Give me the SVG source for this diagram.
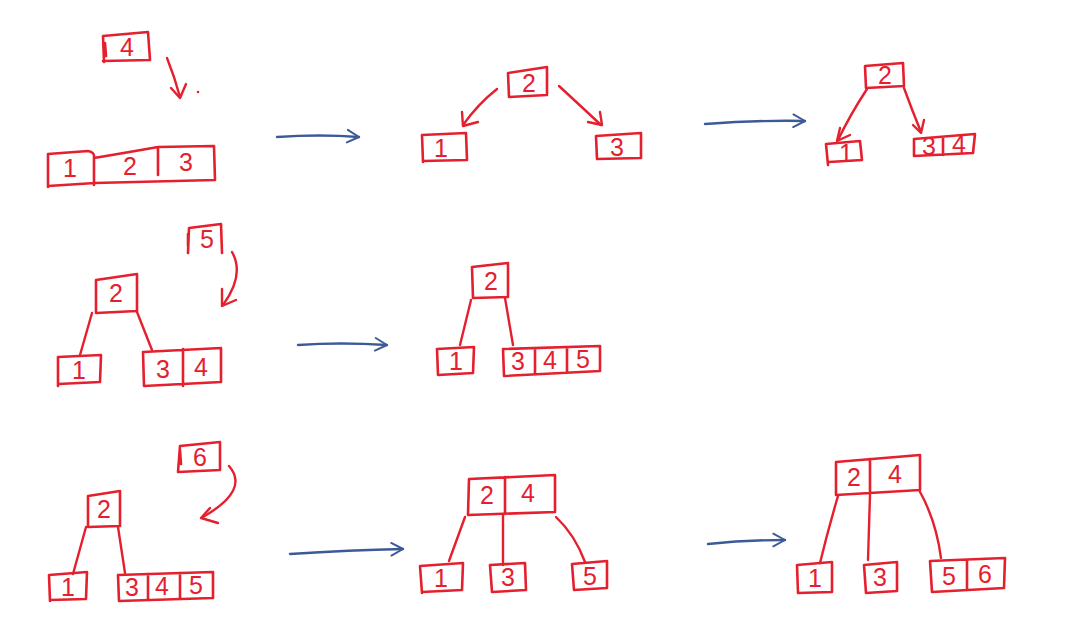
<svg xmlns="http://www.w3.org/2000/svg" width="1070" height="641" viewBox="0 0 1070 641">
<defs>
<style>
.b{fill:none;stroke:#e5202e;stroke-width:2.6;stroke-linejoin:round;stroke-linecap:round}
.t{font-family:"Liberation Sans",Arial,sans-serif;font-size:25px;fill:#e5202e;text-anchor:middle;dominant-baseline:central}
.c{fill:none;stroke:#e5202e;stroke-width:2.4;stroke-linecap:round;stroke-linejoin:round}
.s{fill:none;stroke:#3d5a98;stroke-width:2.4;stroke-linecap:round}
</style>
<marker id="ab" viewBox="0 0 20 20" refX="17" refY="10" markerWidth="18" markerHeight="18" orient="auto" markerUnits="userSpaceOnUse">
<path d="M4,3 L17,10 L4,17" fill="none" stroke="#3d5a98" stroke-width="2.2" stroke-linecap="round" stroke-linejoin="round"/>
</marker>
</defs>
<rect width="1070" height="641" fill="#ffffff"/>

<g id="connectors">
<!-- row 1 -->
<path class="c" d="M167,58 Q175,78 180,97"/>
<path class="c" d="M171,88 L180,98 L186,84"/>
<circle cx="198" cy="92" r="1.3" fill="#e5202e"/>
<path class="s" d="M277,137 Q320,134 359,137" marker-end="url(#ab)"/>
<path class="c" d="M497,89 Q478,104 463,125"/>
<path class="c" d="M462,112 L463,126 L478,122"/>
<path class="c" d="M559,86 Q585,110 601,125"/>
<path class="c" d="M588,122 L602,125 L600,112"/>
<path class="s" d="M705,124 Q760,120 805,121" marker-end="url(#ab)"/>
<path class="c" d="M867,89 Q850,115 838,140"/>
<path class="c" d="M840,128 L837,141 L850,135"/>
<path class="c" d="M904,88 Q912,110 921,132"/>
<path class="c" d="M913,125 L921,133 L924,120"/>
<!-- row 2 -->
<path class="c" d="M232,252 Q245,275 223,305"/>
<path class="c" d="M222,289 L222,306 L236,300"/>
<path class="c" d="M92,313 L80,355"/>
<path class="c" d="M137,312 L152,350"/>
<path class="s" d="M298,345 Q340,342 387,345" marker-end="url(#ab)"/>
<path class="c" d="M471,300 L460,345"/>
<path class="c" d="M505,298 L513,345"/>
<!-- row 3 -->
<path class="c" d="M229,466 Q250,490 203,517"/>
<path class="c" d="M210,508 L201,518 L218,523"/>
<path class="c" d="M86,527 L73,574"/>
<path class="c" d="M118,527 L125,573"/>
<path class="s" d="M290,554 Q350,550 403,549" marker-end="url(#ab)"/>
<path class="c" d="M465,517 L449,561"/>
<path class="c" d="M503,515 L503,565"/>
<path class="c" d="M556,517 Q575,535 585,562"/>
<path class="s" d="M708,544 Q745,540 785,540" marker-end="url(#ab)"/>
<path class="c" d="M838,496 Q828,530 820,563"/>
<path class="c" d="M870,495 L868,560"/>
<path class="c" d="M919,490 Q936,520 941,558"/>
</g>

<g id="n4">
<path class="b" d="M104,62 L103,36 L148,32 L150,60 L103,61 M105,43 L106,56"/>
<text class="t" x="127" y="47">4</text>
</g>
<g id="n123">
<path class="b" d="M48,187 L48,154 L88,151 Q95,152 94,158 Q130,152 158,147 L214,146 L215,180 L95,183 L48,186 M94,156 L94,185 M158,147 L158,175"/>
<text class="t" x="70" y="168">1</text>
<text class="t" x="130" y="166">2</text>
<text class="t" x="186" y="162">3</text>
</g>

<g id="r1b2">
<path class="b" d="M509,97 L508,73 L547,67 L547,95 L509,97 Z"/>
<text class="t" x="529" y="83">2</text>
</g>
<g id="r1b1">
<path class="b" d="M423,162 L422,135 L466,133 L467,160 L423,161 Z"/>
<text class="t" x="441" y="148">1</text>
</g>
<g id="r1b3">
<path class="b" d="M597,159 L596,136 L641,133 L641,158 L597,159 Z"/>
<text class="t" x="617" y="147">3</text>
</g>

<g id="r1c2">
<path class="b" d="M866,88 L865,66 L903,63 L904,86 L866,88 Z"/>
<text class="t" x="885" y="75">2</text>
</g>
<g id="r1c1">
<path class="b" d="M828,165 L826,144 L860,141 L862,160 L829,162"/>
<text class="t" x="846" y="153">1</text>
</g>
<g id="r1c34">
<path class="b" d="M914,156 L914,139 L975,134 L973,153 L914,156 M943,137 L943,155"/>
<text class="t" x="929" y="146">3</text>
<text class="t" x="959" y="144">4</text>
</g>

<g id="r2a5">
<path class="b" d="M188,253 L189,228 L221,224 L222,253 M188,234 L188,246"/>
<text class="t" x="207" y="239">5</text>
</g>
<g id="r2a2">
<path class="b" d="M96,313 L96,280 L137,274 L137,311 L96,313 Z"/>
<text class="t" x="116" y="293">2</text>
</g>
<g id="r2a1">
<path class="b" d="M58,386 L58,357 L101,355 L100,382 L58,384"/>
<text class="t" x="79" y="370">1</text>
</g>
<g id="r2a34">
<path class="b" d="M144,386 L143,352 L221,348 L221,382 L144,386 M183,349 L183,386"/>
<text class="t" x="163" y="369">3</text>
<text class="t" x="201" y="367">4</text>
</g>

<g id="r2b2">
<path class="b" d="M473,298 L472,267 L508,263 L508,297 L473,298 Z"/>
<text class="t" x="491" y="281">2</text>
</g>
<g id="r2b1">
<path class="b" d="M438,375 L437,349 L474,347 L473,373 L438,375 Z"/>
<text class="t" x="456" y="361">1</text>
</g>
<g id="r2b345">
<path class="b" d="M504,376 L503,349 L600,346 L600,371 L504,376 M535,348 L535,374 M567,347 L567,372"/>
<text class="t" x="518" y="361">3</text>
<text class="t" x="550" y="360">4</text>
<text class="t" x="583" y="359">5</text>
</g>

<g id="r3a6">
<path class="b" d="M178,472 L180,446 L220,442 L220,470 L178,472 M180,450 L181,464"/>
<text class="t" x="200" y="457">6</text>
</g>
<g id="r3a2">
<path class="b" d="M88,527 L88,496 L120,491 L120,526 L88,527 Z"/>
<text class="t" x="104" y="509">2</text>
</g>
<g id="r3a1">
<path class="b" d="M50,601 L49,575 L87,572 L86,599 L50,600 Z"/>
<text class="t" x="68" y="587">1</text>
</g>
<g id="r3a345">
<path class="b" d="M119,601 L118,575 L213,572 L213,598 L119,601 M148,574 L148,600 M180,573 L180,599"/>
<text class="t" x="132" y="587">3</text>
<text class="t" x="162" y="586">4</text>
<text class="t" x="196" y="585">5</text>
</g>

<g id="r3b24">
<path class="b" d="M468,515 L469,479 L555,475 L555,512 L468,515 M505,477 L505,514"/>
<text class="t" x="487" y="495">2</text>
<text class="t" x="528" y="493">4</text>
</g>
<g id="r3b1">
<path class="b" d="M422,593 L420,566 L463,563 L462,590 L422,592 Z"/>
<text class="t" x="441" y="578">1</text>
</g>
<g id="r3b3">
<path class="b" d="M492,592 L490,565 L525,563 L526,590 L492,592 Z"/>
<text class="t" x="508" y="577">3</text>
</g>
<g id="r3b5">
<path class="b" d="M574,590 L572,564 L607,561 L607,588 L574,590 Z"/>
<text class="t" x="590" y="576">5</text>
</g>

<g id="r3c24">
<path class="b" d="M836,495 L836,462 L920,455 L920,490 L836,495 M870,459 L870,494"/>
<text class="t" x="854" y="477">2</text>
<text class="t" x="895" y="474">4</text>
</g>
<g id="r3c1">
<path class="b" d="M798,593 L797,565 L832,562 L832,592 L798,593 Z"/>
<text class="t" x="815" y="578">1</text>
</g>
<g id="r3c3">
<path class="b" d="M866,593 L864,565 L897,562 L897,591 L866,593 Z"/>
<text class="t" x="880" y="577">3</text>
</g>
<g id="r3c56">
<path class="b" d="M932,592 L930,561 L1005,558 L1004,588 L932,592 M967,560 L967,590"/>
<text class="t" x="949" y="576">5</text>
<text class="t" x="985" y="574">6</text>
</g>
</svg>
